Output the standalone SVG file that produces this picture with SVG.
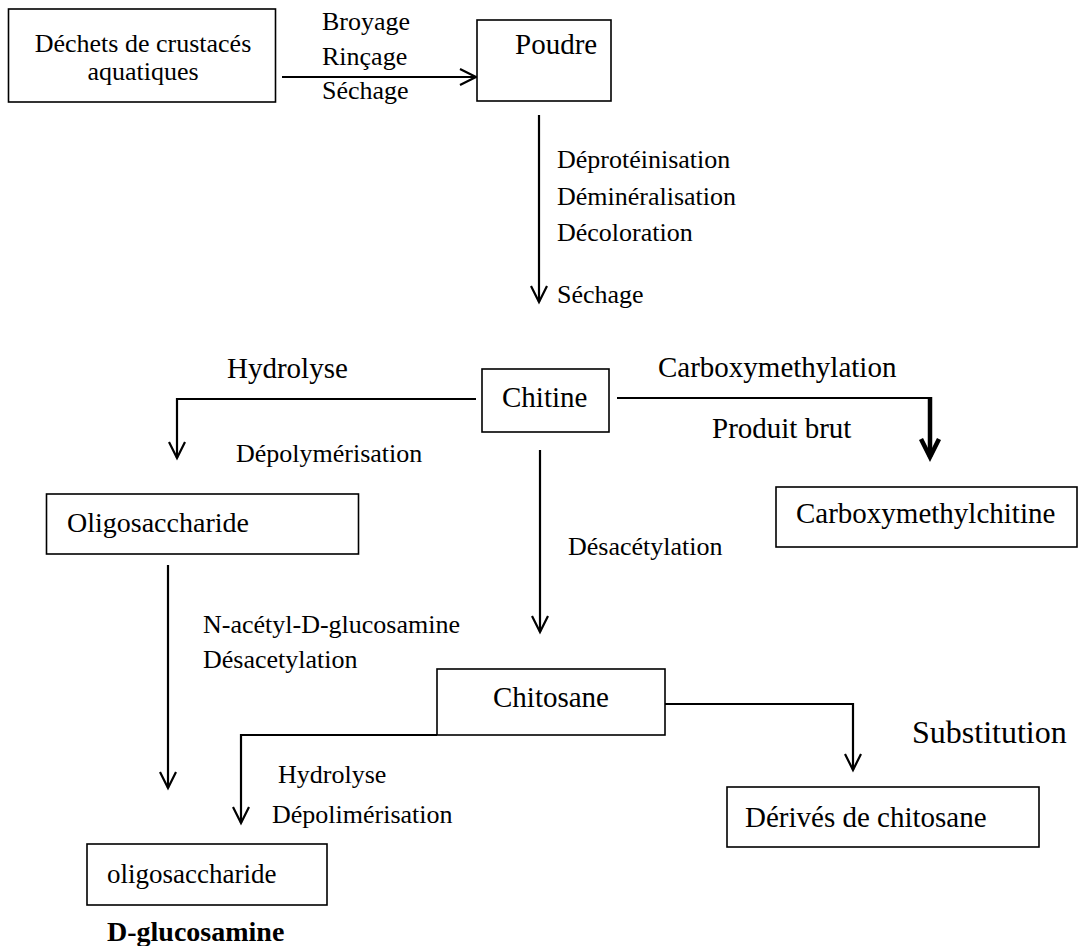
<svg xmlns="http://www.w3.org/2000/svg" width="1080" height="946" viewBox="0 0 1080 946">
  <style>
    .box { fill: #ffffff; stroke: #000000; stroke-width: 1.6; }
    .t { font-family: "Liberation Serif", "Times New Roman", serif; fill: #000000; }
    .n { font-size: 29px; }
    .s { font-size: 26px; }
    .c { text-anchor: middle; }
    .link { fill: none; stroke: #000000; stroke-width: 2.2; }
    .bold-link { fill: none; stroke: #000000; stroke-width: 4.5; }
  </style>
  <defs>
    <marker id="open-arrow" markerUnits="userSpaceOnUse" viewBox="-20 -12 24 24" refX="0" refY="0" markerWidth="24" markerHeight="24" orient="auto">
      <path d="M-16,-8 L0,0 L-16,8" fill="none" stroke="#000000" stroke-width="2.2"/>
    </marker>
    <marker id="heavy-arrow" markerUnits="userSpaceOnUse" viewBox="-24 -14 30 28" refX="0" refY="0" markerWidth="30" markerHeight="28" orient="auto">
      <path d="M-18,-9 L0,0 L-18,9" fill="none" stroke="#000000" stroke-width="4.5"/>
    </marker>
  </defs>
  <rect width="1080" height="946" fill="#ffffff"/>

  <!-- connectors -->
  <g id="connectors">
    <path class="link" d="M282,77 H476" marker-end="url(#open-arrow)"/>
    <path class="link" d="M539,115 V302" marker-end="url(#open-arrow)"/>
    <path class="link" d="M476,399 H177 V458" marker-end="url(#open-arrow)"/>
    <path class="link" d="M617,398 H928"/>
    <path class="bold-link" d="M930,397 V457" marker-end="url(#heavy-arrow)"/>
    <path class="link" d="M540,450 V632" marker-end="url(#open-arrow)"/>
    <path class="link" d="M168,565 V788" marker-end="url(#open-arrow)"/>
    <path class="link" d="M437,735 H241 V823" marker-end="url(#open-arrow)"/>
    <path class="link" d="M665,704 H853 V770" marker-end="url(#open-arrow)"/>
  </g>

  <!-- step labels -->
  <g id="labels">
    <text class="t s" x="322" y="30">Broyage</text>
    <text class="t s" x="322" y="65">Rinçage</text>
    <text class="t s" x="322" y="99">Séchage</text>
    <text class="t s" x="557" y="168">Déprotéinisation</text>
    <text class="t s" x="557" y="205">Déminéralisation</text>
    <text class="t s" x="557" y="241">Décoloration</text>
    <text class="t s" x="557" y="303">Séchage</text>
    <text class="t n" x="227" y="378">Hydrolyse</text>
    <text class="t s" x="236" y="462">Dépolymérisation</text>
    <text class="t n" x="658" y="377">Carboxymethylation</text>
    <text class="t n" x="712" y="438">Produit brut</text>
    <text class="t s" x="568" y="555">Désacétylation</text>
    <text class="t s" x="203" y="633">N-acétyl-D-glucosamine</text>
    <text class="t s" x="203" y="668">Désacetylation</text>
    <text class="t" font-size="32" x="912" y="743">Substitution</text>
    <text class="t s" x="278" y="783">Hydrolyse</text>
    <text class="t s" x="272" y="823">Dépolimérisation</text>
  </g>

  <!-- nodes -->
  <g id="dechets">
    <rect class="box" x="8.5" y="9" width="267" height="93"/>
    <text class="t s c" x="143" y="52">Déchets de crustacés</text>
    <text class="t s c" x="143" y="80">aquatiques</text>
  </g>
  <g id="poudre">
    <rect class="box" x="477" y="20" width="134" height="81"/>
    <text class="t n" x="515" y="54">Poudre</text>
  </g>
  <g id="chitine">
    <rect class="box" x="482" y="369" width="127" height="63"/>
    <text class="t n" x="502" y="407">Chitine</text>
  </g>
  <g id="oligosaccharide-1">
    <rect class="box" x="46.5" y="494" width="312" height="60"/>
    <text class="t" font-size="28" x="67" y="532">Oligosaccharide</text>
  </g>
  <g id="carboxymethylchitine">
    <rect class="box" x="776" y="487" width="301" height="60"/>
    <text class="t n" x="796" y="523">Carboxymethylchitine</text>
  </g>
  <g id="chitosane">
    <rect class="box" x="437" y="669" width="228" height="66"/>
    <text class="t n" x="493" y="707">Chitosane</text>
  </g>
  <g id="derives">
    <rect class="box" x="727" y="787" width="312" height="60"/>
    <text class="t n" x="745" y="827">Dérivés de chitosane</text>
  </g>
  <g id="oligosaccharide-2">
    <rect class="box" x="87" y="844" width="240" height="61"/>
    <text class="t" font-size="27" x="107" y="883">oligosaccharide</text>
    <text class="t" font-size="28" font-weight="bold" x="107" y="941">D-glucosamine</text>
  </g>
</svg>
